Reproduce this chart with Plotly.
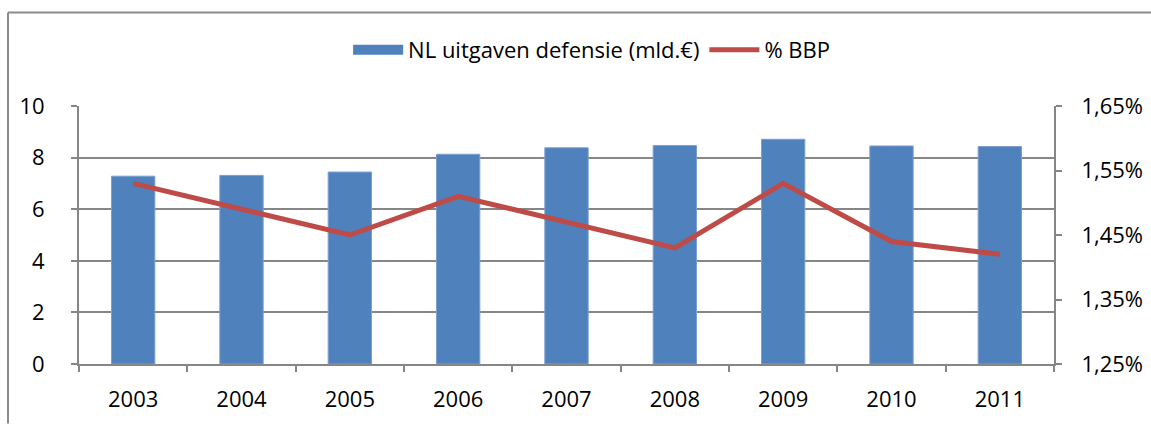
import plotly.graph_objects as go

years = ["2003", "2004", "2005", "2006", "2007", "2008", "2009", "2010", "2011"]
uitgaven = [7.28, 7.31, 7.44, 8.13, 8.38, 8.47, 8.71, 8.45, 8.43]
bbp_pct = [1.53, 1.49, 1.45, 1.51, 1.47, 1.43, 1.53, 1.44, 1.42]

W, H = 1151, 424
L, R, T, B = 79, 1054, 105.7, 364.3

def px_x(p):
    return (p - L) / (R - L)

def px_y(p):
    return (B - p) / (B - T)

font = dict(family="Open Sans", size=22, color="#000000")
grid = "#868686"

fig = go.Figure()
fig.add_trace(go.Bar(
    x=years, y=uitgaven, name="NL uitgaven defensie (mld.€)",
    marker=dict(color="#4F81BD", line=dict(color="#7C9FD0", width=1)),
    yaxis="y", showlegend=False,
))
# legend proxy for the bar series (wide rectangle swatch)
fig.add_trace(go.Scatter(
    x=[None], y=[None], name="NL uitgaven defensie (mld.€)", mode="lines",
    line=dict(color="#4F81BD", width=14), yaxis="y",
))
fig.add_trace(go.Scatter(
    x=years, y=bbp_pct, name="% BBP", mode="lines",
    line=dict(color="#BE4B48", width=5),
    yaxis="y2",
))

fig.update_layout(
    width=W, height=H,
    margin=dict(l=L, r=W - R, t=T, b=H - B, autoexpand=False),
    paper_bgcolor="white", plot_bgcolor="white",
    font=font,
    separators=",.",
    bargap=0.6,
    showlegend=True,
    legend=dict(orientation="h", xref="container", yref="container",
                x=0.514, xanchor="center", y=1 - 50 / H, yanchor="middle",
                font=dict(family="Open Sans", size=22), itemwidth=50,
                traceorder="normal", bgcolor="rgba(0,0,0,0)"),
    xaxis=dict(type="category", showline=True, linecolor=grid, linewidth=2,
               ticks="outside", tickson="boundaries", ticklen=6, tickcolor=grid, tickwidth=2,
               showgrid=False, tickfont=font, automargin=False, ticklabelstandoff=15),
    yaxis=dict(range=[0, 10], dtick=2, showline=True, linecolor=grid, linewidth=2,
               ticks="outside", ticklen=6, tickcolor=grid, tickwidth=2,
               showgrid=True, gridcolor=grid, gridwidth=2, zeroline=False, tickfont=font,
               automargin=False, ticklabelstandoff=22),
    yaxis2=dict(range=[1.25, 1.65], dtick=0.1, tick0=1.25, overlaying="y", side="right",
                tickformat=".2f", ticksuffix="%", showline=True, linecolor=grid, linewidth=2,
                ticks="outside", ticklen=6, tickcolor=grid, tickwidth=2,
                showgrid=False, zeroline=False, tickfont=font, automargin=False,
                ticklabelstandoff=15),
    shapes=[
        dict(type="line", xref="paper", yref="paper", x0=px_x(8), x1=px_x(1151),
             y0=px_y(12), y1=px_y(12), line=dict(color="#8C8C8C", width=2)),
        dict(type="line", xref="paper", yref="paper", x0=px_x(8), x1=px_x(8),
             y0=px_y(12), y1=px_y(424), line=dict(color="#8C8C8C", width=2)),
    ],
)

fig.write_html(
    "out.html",
    config={"displayModeBar": False},
    post_script="document.body.style.margin='0';document.body.style.overflow='hidden';",
)
